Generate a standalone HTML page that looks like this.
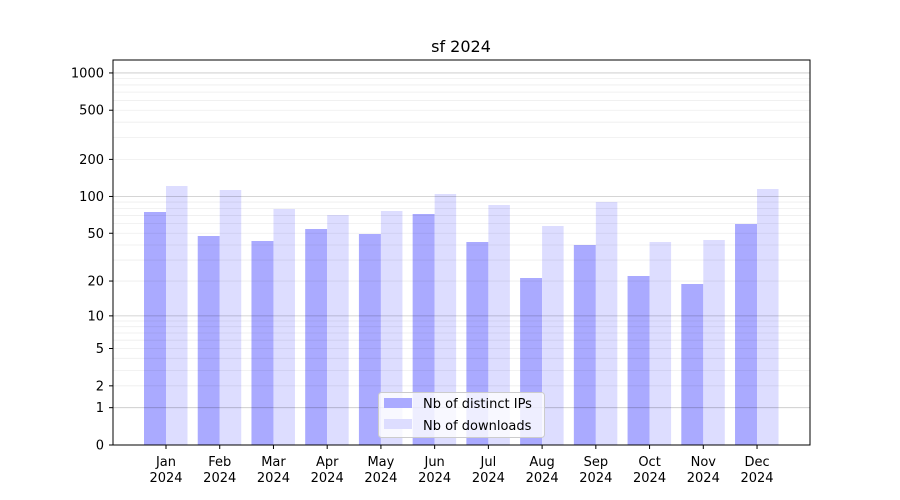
<!DOCTYPE html>
<html><head><meta charset="utf-8"><style>body{margin:0;background:#fff}svg{display:block}text{font-family:"DejaVu Sans","Liberation Sans",sans-serif;fill:#000}</style></head><body>
<svg width="900" height="500" viewBox="0 0 900 500" xmlns="http://www.w3.org/2000/svg">
<rect width="900" height="500" fill="#fff"/>
<g id="bars"></g>
<g id="grid"></g>
<rect x="113" y="60" width="697" height="385" fill="none" stroke="#000" stroke-width="1"/>
<g id="ticks"></g>
<text x="461" y="52" font-size="16" text-anchor="middle">sf 2024</text>
<g>
<rect x="378.5" y="392.5" width="166" height="45" rx="3" fill="#fff" fill-opacity="0.8" stroke="#ccc"/>
<rect x="384" y="398" width="28" height="10" fill="#aaaaff"/>
<text x="423" y="408" font-size="13">Nb of distinct IPs</text>
<rect x="384" y="419" width="28" height="10" fill="#ddddff"/>
<text x="423" y="430" font-size="13">Nb of downloads</text>
</g>
<script>
const ns="http://www.w3.org/2000/svg";
function el(p,t,a,txt){const e=document.createElementNS(ns,t);for(const k in a)e.setAttribute(k,a[k]);if(txt!==undefined)e.textContent=txt;document.getElementById(p).appendChild(e);return e;}
const Y=v=>445-124*Math.log10(1+v);
for(const d of [1,10,100]){for(let m=2;m<=9;m++){const y=Y(d*m);el("grid","line",{x1:113,x2:810,y1:y,y2:y,stroke:"#000","stroke-opacity":0.07,"stroke-width":0.8});}}
for(const v of [1,10,100,1000]){const y=Y(v);el("grid","line",{x1:113,x2:810,y1:y,y2:y,stroke:"#000","stroke-opacity":0.22,"stroke-width":0.8});}
for(const v of [0,1,2,5,10,20,50,100,200,500,1000]){const y=Y(v);el("ticks","line",{x1:109,x2:113,y1:y,y2:y,stroke:"#000"});el("ticks","text",{x:104,y:y+4.5,"font-size":13,"text-anchor":"end"},String(v));}
const months=["Jan","Feb","Mar","Apr","May","Jun","Jul","Aug","Sep","Oct","Nov","Dec"];
const tops=[[212,186],[236,190],[241,209],[229,215],[234,211],[214,194],[242,205],[278,226],[245,202],[276,242],[284,240],[224,189]];
months.forEach((m,i)=>{const c=166+i*53.73;
el("bars","rect",{x:c-22,y:tops[i][0],width:22,height:445-tops[i][0],fill:"#aaaaff"});
el("bars","rect",{x:c,y:tops[i][1],width:21.5,height:445-tops[i][1],fill:"#ddddff"});
el("ticks","line",{x1:c,x2:c,y1:445,y2:449,stroke:"#000"});
el("ticks","text",{x:c,y:466,"font-size":13,"text-anchor":"middle"},m);
el("ticks","text",{x:c,y:482,"font-size":13,"text-anchor":"middle"},"2024");});
</script>
</svg>
</body></html>
